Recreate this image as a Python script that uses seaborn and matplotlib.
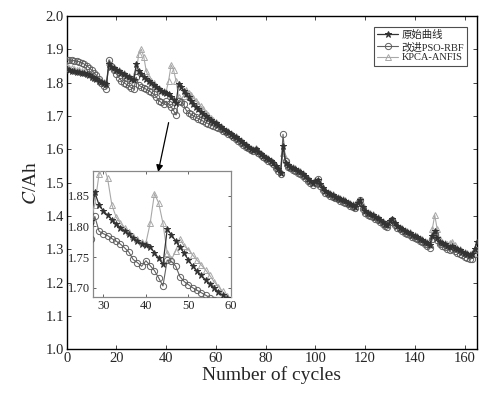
import matplotlib
matplotlib.use("Agg")
import matplotlib.pyplot as plt
import seaborn as sns
import numpy as np
import pandas as pd

cycles = list(range(0, 166))

orig = [1.840, 1.838, 1.836, 1.835, 1.833, 1.832, 1.830, 1.828, 1.826, 1.822,
        1.818, 1.814, 1.810, 1.806, 1.802, 1.799, 1.797, 1.855, 1.848, 1.843,
        1.838, 1.834, 1.829, 1.825, 1.820, 1.816, 1.812, 1.808, 1.855, 1.835,
        1.825, 1.818, 1.811, 1.804, 1.798, 1.793, 1.787, 1.781, 1.776, 1.772,
        1.770, 1.767, 1.757, 1.748, 1.738, 1.795, 1.786, 1.776, 1.766, 1.756,
        1.745, 1.735, 1.727, 1.720, 1.713, 1.706, 1.700, 1.693, 1.688, 1.683,
        1.678, 1.672, 1.666, 1.661, 1.656, 1.651, 1.646, 1.641, 1.636, 1.630,
        1.624, 1.618, 1.612, 1.606, 1.600, 1.598, 1.600, 1.592, 1.586, 1.580,
        1.575, 1.570, 1.566, 1.560, 1.550, 1.540, 1.530, 1.610, 1.560, 1.552,
        1.548, 1.544, 1.540, 1.536, 1.532, 1.527, 1.520, 1.512, 1.505, 1.498,
        1.505, 1.508, 1.495, 1.485, 1.476, 1.470, 1.466, 1.462, 1.458, 1.455,
        1.451, 1.447, 1.444, 1.440, 1.436, 1.432, 1.428, 1.440, 1.447, 1.428,
        1.414, 1.410, 1.406, 1.402, 1.398, 1.393, 1.388, 1.382, 1.377, 1.372,
        1.385, 1.390, 1.378, 1.370, 1.365, 1.361, 1.356, 1.352, 1.348, 1.344,
        1.340, 1.336, 1.332, 1.328, 1.323, 1.318, 1.312, 1.340, 1.355, 1.335,
        1.322, 1.318, 1.315, 1.311, 1.308, 1.310, 1.305, 1.301, 1.297, 1.293,
        1.289, 1.286, 1.283, 1.285, 1.300, 1.322]

pso_rbf = [1.868, 1.868, 1.867, 1.866, 1.865, 1.863, 1.860, 1.856, 1.851, 1.845,
           1.838, 1.830, 1.822, 1.812, 1.800, 1.790, 1.782, 1.868, 1.850, 1.838,
           1.826, 1.815, 1.806, 1.800, 1.795, 1.790, 1.785, 1.780, 1.816, 1.792,
           1.788, 1.785, 1.780, 1.776, 1.771, 1.765, 1.758, 1.746, 1.741, 1.735,
           1.744, 1.736, 1.728, 1.716, 1.703, 1.745, 1.743, 1.735, 1.718, 1.710,
           1.705, 1.700, 1.696, 1.692, 1.688, 1.684, 1.680, 1.677, 1.673, 1.670,
           1.667, 1.664, 1.660, 1.656, 1.652, 1.647, 1.642, 1.637, 1.632, 1.626,
           1.620, 1.614, 1.608, 1.603, 1.598, 1.596, 1.598, 1.589, 1.582, 1.576,
           1.571, 1.566, 1.562, 1.555, 1.545, 1.534, 1.525, 1.645, 1.565, 1.548,
           1.543, 1.538, 1.534, 1.530, 1.526, 1.520, 1.513, 1.506, 1.499, 1.493,
           1.500, 1.512, 1.490, 1.478, 1.470, 1.465, 1.461, 1.457, 1.453, 1.450,
           1.446, 1.442, 1.439, 1.435, 1.431, 1.427, 1.423, 1.438, 1.448, 1.422,
           1.408, 1.404, 1.400, 1.396, 1.392, 1.387, 1.382, 1.376, 1.371, 1.366,
           1.383, 1.388, 1.373, 1.365, 1.360, 1.355, 1.350, 1.346, 1.342, 1.338,
           1.334, 1.330, 1.326, 1.321, 1.316, 1.311, 1.304, 1.330, 1.345, 1.328,
           1.315, 1.310, 1.306, 1.302, 1.299, 1.300, 1.295, 1.290, 1.286, 1.282,
           1.278, 1.275, 1.272, 1.272, 1.285, 1.298]

kpca_anfis = [1.846, 1.845, 1.843, 1.841, 1.839, 1.837, 1.835, 1.833, 1.830, 1.826,
              1.822, 1.818, 1.814, 1.810, 1.806, 1.803, 1.801, 1.862, 1.852, 1.846,
              1.841, 1.837, 1.832, 1.828, 1.823, 1.819, 1.815, 1.811, 1.835, 1.885,
              1.900, 1.878, 1.835, 1.815, 1.805, 1.798, 1.790, 1.784, 1.779, 1.775,
              1.773, 1.805, 1.853, 1.838, 1.805, 1.757, 1.746, 1.760, 1.779, 1.768,
              1.762, 1.753, 1.745, 1.737, 1.729, 1.720, 1.710, 1.702, 1.694, 1.687,
              1.681, 1.675, 1.669, 1.664, 1.659, 1.654, 1.649, 1.644, 1.639, 1.633,
              1.627, 1.621, 1.615, 1.609, 1.603, 1.601, 1.603, 1.595, 1.589, 1.583,
              1.578, 1.573, 1.569, 1.563, 1.553, 1.543, 1.533, 1.590, 1.570, 1.555,
              1.551, 1.547, 1.543, 1.539, 1.535, 1.530, 1.523, 1.515, 1.508, 1.501,
              1.508, 1.506, 1.497, 1.488, 1.479, 1.473, 1.469, 1.465, 1.461, 1.458,
              1.454, 1.450, 1.447, 1.443, 1.439, 1.435, 1.431, 1.438, 1.445, 1.432,
              1.417, 1.413, 1.409, 1.405, 1.401, 1.396, 1.391, 1.385, 1.380, 1.375,
              1.382, 1.392, 1.381, 1.373, 1.368, 1.364, 1.359, 1.355, 1.351, 1.347,
              1.343, 1.339, 1.335, 1.331, 1.326, 1.321, 1.316, 1.360, 1.403, 1.360,
              1.330, 1.322, 1.318, 1.315, 1.318, 1.323, 1.312, 1.304, 1.300, 1.296,
              1.292, 1.289, 1.286, 1.288, 1.302, 1.315]

labels = ["原始曲线", "改进PSO-RBF", "KPCA-ANFIS"]
x_ticks = [0, 20, 40, 60, 80, 100, 120, 140, 160]
y_ticks = [1.0, 1.1, 1.2, 1.3, 1.4, 1.5, 1.6, 1.7, 1.8, 1.9, 2.0]
inset_x_ticks = [30, 40, 50, 60]
inset_y_ticks = [1.70, 1.75, 1.80, 1.85]

sns.set_theme(style="ticks")
plt.rcParams['font.family'] = ['Liberation Serif', 'Noto Sans CJK SC', 'DejaVu Sans']
plt.rcParams['mathtext.fontset'] = 'stix'

styles = [
    dict(marker='*', color='#333333', mfc='#333333', mec='#333333', ms=5, lw=0.9, zorder=5),
    dict(marker='o', color='#606060', mfc='none', mec='#606060', ms=4.5, lw=0.8, zorder=4),
    dict(marker='^', color='#a8a8a8', mfc='none', mec='#a8a8a8', ms=4.5, lw=0.8, zorder=3),
]
series = [orig, pso_rbf, kpca_anfis]

fig = plt.figure(figsize=(4.9, 3.98), dpi=100)
ax = fig.add_axes([0.136, 0.1224, 0.8375, 0.8375])


def draw(axis, mew):
    for vals, lab, st in zip(series, labels, styles):
        sns.lineplot(x=cycles, y=vals, ax=axis, label=lab, color=st['color'],
                     marker=st['marker'], markersize=st['ms'],
                     markerfacecolor=st['mfc'], markeredgecolor=st['mec'],
                     markeredgewidth=mew, linewidth=st['lw'], zorder=st['zorder'],
                     legend=False)


draw(ax, 0.7)
ax.set_xlim(0, 165)
ax.set_ylim(1.0, 2.0)
ax.set_xticks(x_ticks)
ax.set_yticks(y_ticks)
ax.set_yticklabels([f"{v:.1f}" for v in y_ticks])
ax.tick_params(direction='in', top=True, right=True, labelsize=10.5, length=3, width=0.6, pad=2)
for s in ax.spines.values():
    s.set_linewidth(1.0)
    s.set_color('black')
ax.set_xlabel("Number of cycles", fontsize=14, labelpad=1)
ax.set_ylabel("$C$/Ah", fontsize=14, labelpad=4)

handles = ax.get_lines()[:3]
leg = ax.legend(handles, labels, loc='upper right', bbox_to_anchor=(0.976, 0.967),
                borderaxespad=0, fontsize=7.5, frameon=True, fancybox=False,
                edgecolor='#222222', handlelength=2.0, handletextpad=0.3,
                labelspacing=0.15, borderpad=0.3)
leg.get_frame().set_linewidth(0.8)

ax.annotate("", xy=(36.8, 1.532), xytext=(41, 1.68),
            arrowprops=dict(arrowstyle='-|>', color='black', lw=0.9,
                            mutation_scale=10, shrinkA=0, shrinkB=0))

ins = fig.add_axes([0.19, 0.2538, 0.2816, 0.3166])
ins.set_facecolor('white')
draw(ins, 0.7)
ins.set_xlim(27.6, 60)
ins.set_ylim(1.685, 1.89)
ins.set_xticks(inset_x_ticks)
ins.set_yticks(inset_y_ticks)
ins.set_yticklabels([f"{v:.2f}" for v in inset_y_ticks])
ins.set_xlabel("")
ins.set_ylabel("")
ins.tick_params(direction='in', top=True, right=True, labelsize=9, length=2.5, width=0.5, pad=2)
for s in ins.spines.values():
    s.set_linewidth(0.9)
    s.set_color('#888888')

fig.savefig("out.png", dpi=100)
